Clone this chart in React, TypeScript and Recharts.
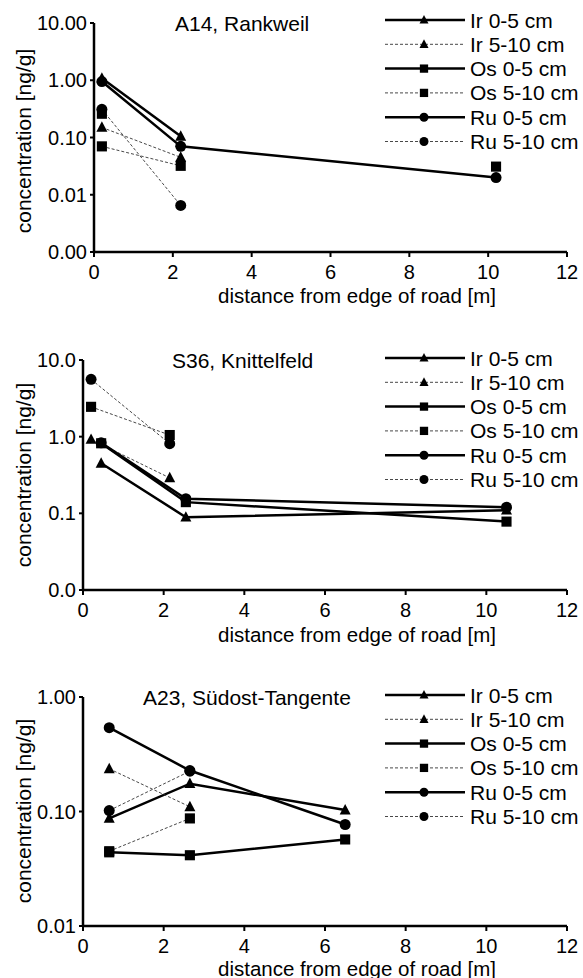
import React from 'react';
import { LineChart, Line, XAxis, YAxis } from 'recharts';

const FONT = '"Liberation Sans", Arial, Helvetica, sans-serif';

// ---------- shared ----------
const xTicks = [0, 2, 4, 6, 8, 10, 12];
const seriesNames = ['Ir 0-5 cm', 'Ir 5-10 cm', 'Os 0-5 cm', 'Os 5-10 cm', 'Ru 0-5 cm', 'Ru 5-10 cm'];
const seriesShapes = ['triangle', 'triangle', 'square', 'square', 'circle', 'circle'];
const seriesDashed = [false, true, false, true, false, true];

// ---------- Panel 1: A14, Rankweil ----------
const p1Title = 'A14, Rankweil';
const p1X = [0.2, 2.2, 10.2];
const p1IrTop = [1.08, 0.105, null];
const p1IrSub = [0.15, 0.045, null];
const p1OsTop = [0.26, null, 0.031];
const p1OsSub = [0.07, 0.032, null];
const p1RuTop = [0.95, 0.07, 0.02];
const p1RuSub = [0.31, 0.0065, null];
const p1YTicks = [0.001, 0.01, 0.1, 1, 10];

// ---------- Panel 2: S36, Knittelfeld ----------
const p2Title = 'S36, Knittelfeld';
const p2XTop = [0.45, 2.55, 10.5];
const p2XSub = [0.2, 2.15];
const p2IrTop = [0.45, 0.089, 0.11];
const p2IrSub = [0.92, 0.29];
const p2OsTop = [0.82, 0.14, 0.078];
const p2OsSub = [2.45, 1.05];
const p2RuTop = [0.83, 0.155, 0.12];
const p2RuSub = [5.6, 0.81];
const p2YTicks = [0.01, 0.1, 1, 10];

// ---------- Panel 3: A23, Südost-Tangente ----------
const p3Title = 'A23, Südost-Tangente';
const p3X = [0.65, 2.65, 6.5];
const p3IrTop = [0.087, 0.175, 0.103];
const p3IrSub = [0.236, 0.11, null];
const p3OsTop = [0.044, 0.0415, 0.057];
const p3OsSub = [0.045, 0.087, null];
const p3RuTop = [0.54, 0.228, 0.077];
const p3RuSub = [0.102, 0.225, null];
const p3YTicks = [0.01, 0.1, 1];

const zip = (xs: number[], ys: (number | null)[]) => xs.map((x, i) => ({ x, y: ys[i] }));

function Marker({ shape, cx, cy, s }: { shape: string; cx: number; cy: number; s: number }) {
  if (shape === 'triangle') {
    const h = s * 0.95;
    return (
      <polygon
        points={`${cx},${cy - h * 0.58} ${cx - s / 2},${cy + h * 0.42} ${cx + s / 2},${cy + h * 0.42}`}
        fill="#000"
      />
    );
  }
  if (shape === 'square') {
    return <rect x={cx - s * 0.46} y={cy - s * 0.46} width={s * 0.92} height={s * 0.92} fill="#000" />;
  }
  return <circle cx={cx} cy={cy} r={s / 2} fill="#000" />;
}

type PanelProps = {
  top: number;
  height: number;
  plotTop: number;
  plotBottom: number;
  axisX: number;
  yTicks: number[];
  decimals: number;
  series: { x: number; y: number | null }[][];
};

function Panel({ top, height, plotTop, plotBottom, axisX, yTicks, decimals, series }: PanelProps) {
  return (
    <div style={{ position: 'absolute', left: 0, top, width: 583, height }}>
      <LineChart
        width={583}
        height={height}
        margin={{ top: plotTop - top, right: 16, bottom: 0, left: 0 }}
      >
        <XAxis
          type="number"
          dataKey="x"
          domain={[0, 12]}
          ticks={xTicks}
          interval={0}
          height={top + height - plotBottom}
          tickSize={5}
          tickMargin={8}
          axisLine={{ stroke: '#000', strokeWidth: 2.5 }}
          tickLine={{ stroke: '#000', strokeWidth: 2 }}
          tick={{ fill: '#000', fontSize: 20, fontFamily: FONT }}
          allowDataOverflow
        />
        <YAxis
          type="number"
          dataKey="y"
          scale="log"
          domain={[yTicks[0], yTicks[yTicks.length - 1]]}
          ticks={yTicks}
          interval={0}
          allowDataOverflow
          width={axisX}
          tickSize={4}
          tickMargin={3}
          tickFormatter={(v: number) => v.toFixed(decimals)}
          axisLine={{ stroke: '#000', strokeWidth: 2.5 }}
          tickLine={{ stroke: '#000', strokeWidth: 2 }}
          tick={{ fill: '#000', fontSize: 20, fontFamily: FONT }}
        />
        {series.map((d, i) => (
          <Line
            key={seriesNames[i]}
            data={d}
            dataKey="y"
            name={seriesNames[i]}
            type="linear"
            stroke={seriesDashed[i] ? '#333' : '#000'}
            strokeWidth={seriesDashed[i] ? 0.9 : 2.5}
            strokeDasharray={seriesDashed[i] ? '3 2' : undefined}
            connectNulls={false}
            isAnimationActive={false}
            activeDot={false}
            dot={(p: any) => {
              const k = `${seriesNames[i]}-${p.index}`;
              if (p.cx == null || p.cy == null || !isFinite(p.cy) || p.value == null) return <g key={k} />;
              return (
                <g key={k}>
                  <Marker shape={seriesShapes[i]} cx={p.cx} cy={p.cy} s={11} />
                </g>
              );
            }}
          />
        ))}
      </LineChart>
    </div>
  );
}

function LegendBlock({ y0 }: { y0: number }) {
  return (
    <g>
      {seriesNames.map((n, i) => {
        const y = y0 + i * 24.3;
        return (
          <g key={n}>
            <line
              x1={385}
              x2={465}
              y1={y}
              y2={y}
              stroke={seriesDashed[i] ? '#333' : '#000'}
              strokeWidth={seriesDashed[i] ? 0.9 : 2.5}
              strokeDasharray={seriesDashed[i] ? '3 2' : undefined}
            />
            <Marker shape={seriesShapes[i]} cx={424} cy={y} s={9} />
            <text x={470} y={y} dominantBaseline="central" fontSize={21} fontFamily={FONT} fill="#000">
              {n}
            </text>
          </g>
        );
      })}
    </g>
  );
}

function Texts({ title, titleX, titleY, yMid, xLabelY, legendY0 }: any) {
  return (
    <g>
      <text x={titleX} y={titleY} dominantBaseline="central" fontSize={21} fontFamily={FONT} fill="#000">
        {title}
      </text>
      <text
        x={23}
        y={yMid}
        transform={`rotate(-90 23 ${yMid})`}
        textAnchor="middle"
        dominantBaseline="central"
        fontSize={21}
        fontFamily={FONT}
        fill="#000"
      >
        concentration [ng/g]
      </text>
      <text x={357} y={xLabelY} textAnchor="middle" dominantBaseline="central" fontSize={20.5} fontFamily={FONT} fill="#000">
        distance from edge of road [m]
      </text>
      <LegendBlock y0={legendY0} />
    </g>
  );
}

export default function App() {
  const s1 = [zip(p1X, p1IrTop), zip(p1X, p1IrSub), zip(p1X, p1OsTop), zip(p1X, p1OsSub), zip(p1X, p1RuTop), zip(p1X, p1RuSub)];
  const s2 = [
    zip(p2XTop, p2IrTop),
    zip(p2XSub, p2IrSub),
    zip(p2XTop, p2OsTop),
    zip(p2XSub, p2OsSub),
    zip(p2XTop, p2RuTop),
    zip(p2XSub, p2RuSub),
  ];
  const s3 = [zip(p3X, p3IrTop), zip(p3X, p3IrSub), zip(p3X, p3OsTop), zip(p3X, p3OsSub), zip(p3X, p3RuTop), zip(p3X, p3RuSub)];
  return (
    <div style={{ position: 'absolute', left: 0, top: 0, width: 583, height: 978, background: '#fff', fontFamily: FONT }}>
      <Panel top={0} height={320} plotTop={23} plotBottom={252} axisX={94} yTicks={p1YTicks} decimals={2} series={s1} />
      <Panel top={320} height={320} plotTop={360} plotBottom={590} axisX={83} yTicks={p2YTicks} decimals={1} series={s2} />
      <Panel top={640} height={338} plotTop={697} plotBottom={926} axisX={83} yTicks={p3YTicks} decimals={2} series={s3} />
      <svg width={583} height={978} style={{ position: 'absolute', left: 0, top: 0, pointerEvents: 'none' }}>
        <Texts title={p1Title} titleX={175} titleY={23} yMid={141} xLabelY={295} legendY0={20} />
        <Texts title={p2Title} titleX={172} titleY={360} yMid={475} xLabelY={634} legendY0={358} />
        <Texts title={p3Title} titleX={143} titleY={697} yMid={811} xLabelY={968} legendY0={695} />
      </svg>
    </div>
  );
}
